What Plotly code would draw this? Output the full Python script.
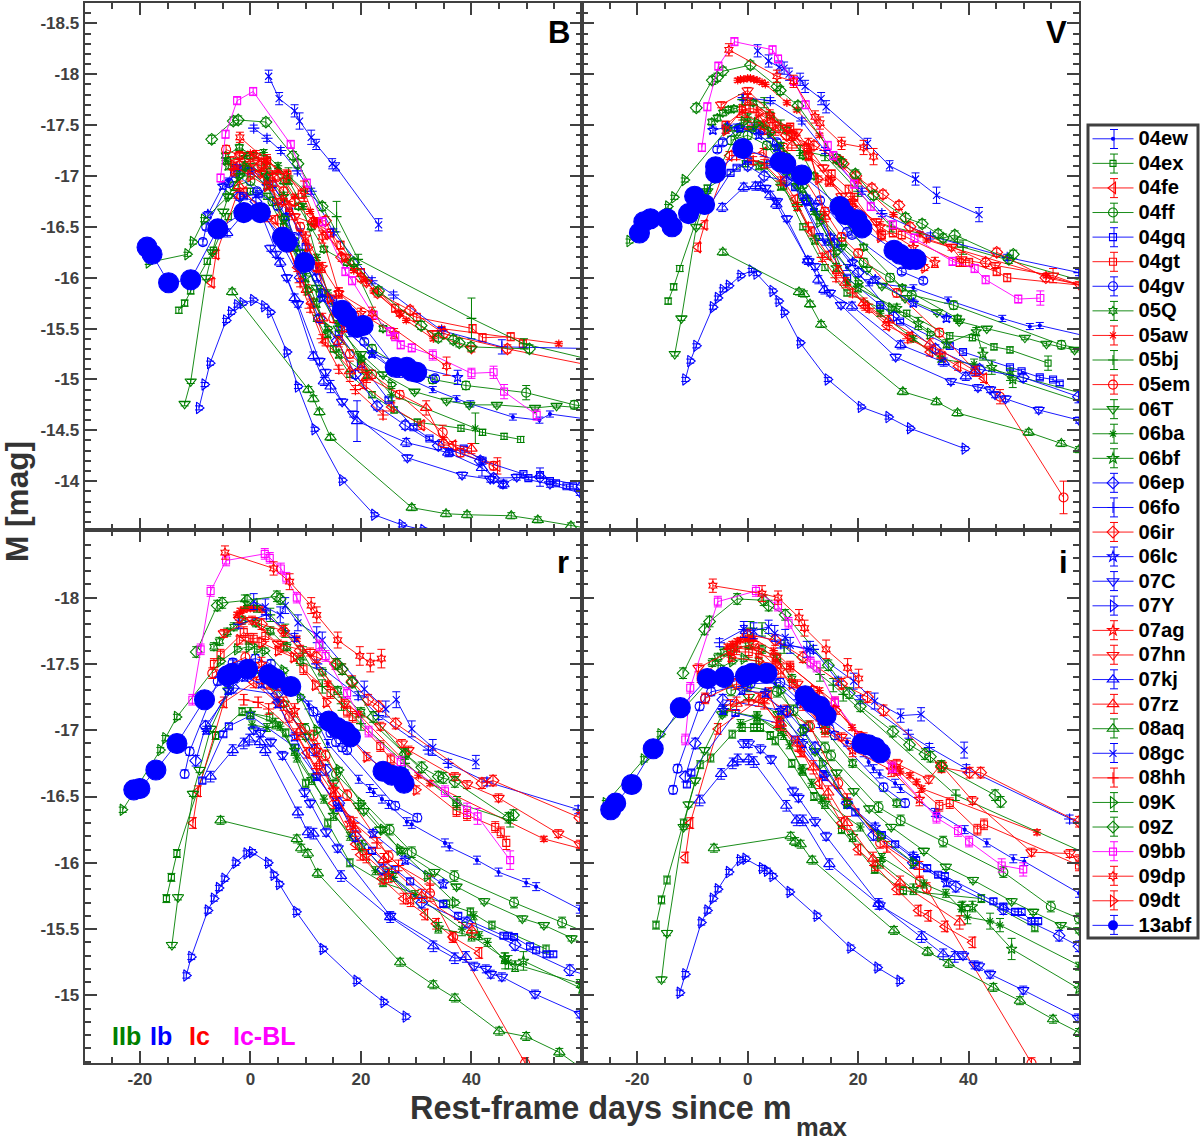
import plotly.graph_objects as go

SN_NAMES = ["04ew","04ex","04fe","04ff","04gq","04gt","04gv","05Q","05aw","05bj","05em","06T","06ba","06bf","06ep","06fo","06ir","06lc","07C","07Y","07ag","07hn","07kj","07rz","08aq","08gc","08hh","09K","09Z","09bb","09dp","09dt","13abf"]
SN_ERR = [.03,.03,.04,.04,.02,.04,.03,.03,.02,.05,.04,.02,.03,.04,.04,.03,.04,.03,.03,.02,.05,.03,.04,.05,.03,.06,.04,.02,.04,.04,.06,.03,.02]

# ---- B band: (day, magnitude[, error])
B_04ew = [(-4,-16.95),(-2,-17.05),(0,-17.05),(3,-16.98),(6,-16.75),(9,-16.45),(12,-16.1),(15,-15.75),(18,-15.45),(22,-15.25),(27,-15.05),(33,-14.9),(37.3,-14.81),(39.8,-14.76),(47.5,-14.63),(52.3,-14.6),(54.2,-14.66),(65,-14.58)]
B_04ex = [(-12.95,-15.68),(-11.9,-15.75),(-10.8,-15.87),(-7.8,-16.16),(-6.7,-16.27),(-4,-16.6),(0,-16.85),(3,-16.8),(6,-16.5),(9,-16.1),(12,-15.6),(15,-15.3),(18,-15.05),(22,-14.85),(26,-14.7),(30.2,-14.58),(38.1,-14.52),(42,-14.48),(45.9,-14.44),(48.9,-14.41)]
B_04fe = [(-7,-15.95),(-6.2,-16.23),(-2.4,-16.82),(-1.2,-16.84),(4.5,-16.57),(8.5,-16.1),(11,-15.75),(13.6,-15.37),(20.5,-14.95),(25.5,-14.73),(31,-14.55),(36.7,-14.35),(44.7,-14.15,.08)]
B_04ff = [(-3,-16.9),(0,-16.95),(4,-16.75),(8,-16.35),(12.7,-15.85),(17,-15.6),(22,-15.3),(28,-15.1),(33,-15.0),(39,-14.94),(49.9,-14.87,.07),(58.6,-14.75),(65,-14.7)]
B_04gq = [(-1.2,-16.8),(1.5,-16.82),(4,-16.92),(7,-16.65),(10,-16.3),(13,-15.85),(16,-15.45),(20,-15.15),(25,-14.8),(29.5,-14.53),(32.4,-14.42),(36,-14.28),(38.6,-14.32),(42,-14.2),(49.4,-14.07),(50.3,-14.03),(52.4,-14.06),(54.2,-14.0),(55.3,-13.98),(57.2,-13.95),(58.4,-13.95)]
B_04gt = [(-3.6,-17.15),(0,-17.2),(3,-17.15),(6.7,-17.01),(9.3,-16.82),(11.7,-16.55),(14.5,-16.44),(16.3,-16.32),(20,-16.05),(26.2,-15.7),(30.1,-15.61),(40.2,-15.5),(42,-15.41),(47.1,-15.42),(49.3,-15.35)]
B_04gv = [(-8.6,-16.35),(-8,-16.5),(-3.9,-16.93),(-2.8,-17.03),(1.2,-16.85),(5,-16.7),(8,-16.4),(12,-16),(14.8,-15.78),(20.6,-15.37),(26,-15.08),(29,-15.05),(33.4,-15.01)]
B_05Q = [(-4.5,-17.2),(-2,-17.28),(0.5,-17.2),(3,-17.1),(6,-16.95),(8.7,-16.7),(11,-16.5),(13.3,-16.28),(17.5,-16.15),(18.8,-16.1),(24,-15.5)]
B_05aw = [(0,-17.22),(3,-17.15),(5,-17.05),(8.1,-16.8),(10.8,-16.65),(12,-16.55),(18.7,-16.07),(20.8,-15.98),(22.3,-15.87),(27.1,-15.65),(28.2,-15.58),(33.1,-15.4),(34.6,-15.5),(55.8,-15.35)]
B_05bj = [(-1,-17.05),(2,-17.05),(6.9,-17.0,.08),(10,-16.85),(15.6,-16.6,.15),(19.5,-16.18),(40,-15.6,.2),(49.5,-15.35),(65,-15.15)]
B_05em = [(-4.4,-17.26),(-2,-17.2),(2,-17.1),(6,-16.85),(9,-16.5),(12,-16.1),(15,-15.6),(18,-15.25),(22,-15.05),(27,-14.85),(34.8,-14.48,.07),(38,-14.28),(44,-14.15)]
B_06T = [(-11.9,-14.76),(-10.8,-14.98),(-8,-16),(-6.9,-16.25),(-4.9,-16.65),(-4,-16.8),(-2,-17),(0,-17.1),(3,-17),(6.1,-16.58),(9,-16.25),(12,-15.9),(16,-15.5),(20,-15.25),(24,-15.05),(29.7,-14.88),(35.5,-14.79),(39.6,-14.75),(44.6,-14.75),(51.5,-14.72),(55.4,-14.74),(65,-14.7)]
B_06ba = [(-4.5,-17.15),(-1,-17.2),(2.4,-17.23),(5,-17.1),(7,-16.95),(9.5,-16.7),(12,-16.2),(14,-15.85),(16,-15.55),(20,-15.2),(25.5,-14.85,.06),(40.7,-14.52,.15)]
B_06bf = [(-4,-17.1),(-1,-17.1),(3,-17),(6,-16.8),(8,-16.3),(10,-16),(12,-15.75),(14,-15.45),(16,-15.25),(21,-15.05)]
B_06ep = [(-2,-16.8),(1,-16.75),(5,-16.4),(9,-16.0),(12.5,-15.6),(15.7,-15.38),(19,-15.05),(22.9,-14.74),(28,-14.55),(34,-14.35),(41.6,-14.2),(44,-14.03),(52.4,-14.04,.09),(60,-13.95),(65,-13.9)]
B_06fo = [(0.6,-17.47),(3,-17.37),(5.5,-17.25),(8.5,-17.05),(11,-16.85),(15,-16.45),(22,-15.97),(25.9,-15.83),(34.6,-15.48),(45.5,-15.32,.07),(65,-15.3)]
B_06ir = [(-2,-17.1),(2,-17.12),(5,-17),(8,-16.75),(11.4,-16.55),(13.6,-16.56),(16.5,-16.2),(20,-16),(23,-15.85),(28.9,-15.68),(35,-15.45),(46.5,-15.3),(65,-15.1)]
B_06lc = [(-7.7,-16.62),(-5,-16.9),(-2.5,-17.08),(0,-17.05),(3,-16.9),(6.5,-16.6),(9.5,-16.2),(13,-15.8),(17,-15.5),(22,-15.25),(28,-15.15),(37.5,-15.02,.07)]
B_07C = [(3.6,-16.29),(4.6,-16.23),(6.6,-16.0),(8.6,-15.74),(12.5,-15.18),(13.6,-15.07),(16.6,-14.78),(18.6,-14.66),(28.4,-14.23),(38.3,-14.06),(43.4,-14.02),(45.7,-13.97),(48.2,-14.04),(54.2,-13.97),(59.6,-13.89),(65,-13.8)]
B_07Y = [(-9.3,-14.72),(-8.3,-14.95),(-7.3,-15.16),(-4.4,-15.58),(-3.5,-15.66),(-2.4,-15.73),(-1.4,-15.75),(0.5,-15.78),(2.5,-15.72),(3.6,-15.66),(6.6,-15.27),(8.6,-14.93),(11.6,-14.51),(16.6,-14.01),(22.4,-13.67),(27.4,-13.57),(31.3,-13.52),(35.5,-13.42)]
B_07ag = [(-3,-17.05),(1,-17.2),(4,-17),(7,-16.7),(10,-16.4),(13,-16.1),(16,-15.85),(20,-15.65),(26,-15.45)]
B_07hn = [(-1.9,-17.2),(1.8,-17.02),(5,-16.75),(8,-16.6),(11.7,-16.53),(13.9,-16.42),(17.2,-16.2),(21,-15.95),(27,-15.65),(33,-15.45),(40,-15.3)]
B_07kj = [(-4.2,-16.44),(-1.2,-16.63),(1.8,-16.65),(5.4,-16.15),(8,-15.8),(11.4,-15.23),(13.3,-14.98),(14.5,-14.93,.06),(19.3,-14.59,.2),(28.2,-14.38),(35.8,-14.28),(41.9,-14.13,.08),(45.8,-13.97)]
B_07rz = [(-2,-16.9),(3,-16.6),(6,-16.4),(10.2,-15.88),(13,-15.6),(16,-15.37),(18,-15.08,.1),(20.2,-15.12),(21.1,-15.02),(31.8,-14.72,.07),(35,-14.38),(40,-14.32)]
B_08aq = [(-3.3,-15.86),(10.5,-14.9),(11.4,-14.81),(12.5,-14.68),(14.5,-14.43),(29.2,-13.74),(35.4,-13.68),(39.2,-13.67),(47.2,-13.66),(52,-13.62),(58,-13.56),(65,-13.5)]
B_08gc = [(3.3,-17.98),(5.2,-17.76),(8,-17.64,.06),(8.9,-17.54,.08),(11,-17.38,.07),(11.9,-17.31,.05),(14.8,-17.12,.05),(15.5,-17.09,.04),(23.2,-16.52,.06)]
B_08hh = [(0,-17.1),(4,-16.9),(7,-16.3),(9,-15.95),(10.8,-15.7),(13,-15.4),(16,-15.1),(19,-14.9),(24,-14.65)]
B_09K = [(-18.4,-16.15),(-11.4,-16.23),(-10.4,-16.35),(-8.4,-16.57),(-4,-16.8),(-2,-17),(-0.9,-17.08),(3,-16.9),(6.1,-16.58),(10.4,-15.88),(14,-15.5),(20,-15.2),(25.5,-14.95)]
B_09Z = [(-7,-17.36),(-3.1,-17.54),(-2.2,-17.55),(2.8,-17.53),(7.7,-17.2),(8.6,-17.12),(13,-16.7),(18.7,-16.15),(23.2,-15.87),(30.9,-15.53),(34,-15.41),(36.7,-15.39),(37.8,-15.36),(39.9,-15.32),(50.5,-15.3)]
B_09bb = [(-5.4,-16.98),(-4.5,-17.41),(-2.4,-17.74),(0.5,-17.83),(7.3,-17.31),(10.2,-16.93),(13,-16.55),(17.2,-16.06),(18.4,-15.97),(22.3,-15.63),(25.3,-15.47),(26.2,-15.42),(27.2,-15.34),(29.2,-15.31),(33,-15.24,.05),(40,-15.06,.05),(44,-15.07,.06),(45.9,-14.88,.07),(51.8,-14.65,.05)]
B_09dp = [(-1.9,-17.38,.05),(3,-17.15),(6.5,-17),(9.7,-16.85,.1),(13,-16.4),(16,-15.85,.05),(22,-15.65),(35.5,-15.13,.09)]
B_09dt = [(-3,-17.1),(0,-17),(3,-16.9),(6,-16.75),(10.4,-16.3),(12.3,-16.1),(14.4,-15.8),(17,-15.5)]
B_13abf = [(-18.7,-16.3),(-17.8,-16.23),(-14.8,-15.95),(-10.8,-15.98),(-5.9,-16.48),(-1.2,-16.64),(1.8,-16.64),(5.8,-16.4),(6.6,-16.35),(9.8,-16.15),(16.6,-15.68),(17.5,-15.62),(19.3,-15.51),(20.4,-15.53),(26.2,-15.12),(28.3,-15.12),(29.2,-15.08),(30.1,-15.07)]

# ---- V band
V_04ew = [(-4,-17.45),(-2,-17.48),(1,-17.48),(4,-17.4),(7,-17.15),(10,-16.75),(14,-16.35),(18,-16.1),(22,-15.95),(30,-15.9),(36.3,-15.78),(46.1,-15.6),(51.1,-15.52),(52.9,-15.53),(65,-15.38)]
V_04ex = [(-14.4,-15.77),(-13.4,-15.91),(-12.3,-16.09),(-7.3,-16.88),(-0.4,-17.12),(3,-17.1),(6.5,-16.9),(10,-16.5),(14,-16.1),(18,-15.85),(24,-15.7),(28.8,-15.65),(36.6,-15.43),(40.7,-15.41),(44.6,-15.32),(47.5,-15.29),(54.4,-15.16,.07)]
V_04fe = [(-9,-16.3),(-7.8,-16.52),(-3.3,-17.2),(2.9,-17.23),(6.6,-16.95),(8.6,-16.77),(11.6,-16.45),(14.6,-16.22),(21.3,-15.72),(25.2,-15.53),(29.4,-15.42),(33,-15.27),(35.3,-15.22),(38.1,-15.13),(42.8,-15.01)]
V_04ff = [(-3,-17.35),(0,-17.4),(3.5,-17.3),(7,-17.05),(10,-16.8),(13.1,-16.61),(17,-16.35),(21,-16.15),(25.8,-16),(29.7,-15.83),(37.3,-15.73),(56.8,-15.34),(65,-15.25)]
V_04gq = [(-7,-16.7),(-3.1,-17.03),(-2,-17.08),(0,-17.15),(4,-17.12),(8.6,-16.89),(13,-16.4),(18,-16),(24,-15.73),(27.6,-15.57),(36.6,-15.33),(39,-15.27),(47.5,-15.12),(49.6,-15.08),(52.9,-15.02),(55.3,-15),(56.5,-14.96)]
V_04gt = [(-4,-17.5),(-0.4,-17.66),(1.1,-17.66),(4.2,-17.56),(7.7,-17.48),(11,-17.2),(15.2,-17.02),(18.3,-16.87),(19.3,-16.79),(24.3,-16.42),(26.3,-16.44),(27.9,-16.42),(38.4,-16.15),(40.1,-16.15),(45.1,-16.06),(47,-16),(65,-15.9)]
V_04gv = [(-5.5,-17.26),(-4.5,-17.33),(-1.6,-17.47),(2.3,-17.45),(5.3,-17.33),(8,-17),(10.7,-16.75),(13.1,-16.76),(18,-16.45),(18.9,-16.42),(27.9,-16.06),(31.8,-15.97)]
V_05Q = [(-6.5,-17.53),(-5.5,-17.57),(-4.5,-17.62),(-3.5,-17.65),(-2.5,-17.66),(1,-17.72),(4,-17.6),(7,-17.45),(10,-17.2),(12,-17),(17,-16.6),(21,-16.3),(28,-15.9),(38,-15.6)]
V_05aw = [(-1.8,-17.94),(-1.3,-17.95),(-0.7,-17.95),(0,-17.96),(0.5,-17.96),(1.1,-17.95),(1.7,-17.94),(2.6,-17.92),(3.2,-17.9),(7.1,-17.72),(8.9,-17.65),(13,-17.4),(16,-17.15),(20,-16.95),(26.4,-16.62),(31.2,-16.43),(32.4,-16.37),(54.1,-16.02),(65,-15.85)]
V_05bj = [(-1,-17.75),(3,-17.72),(6,-17.5),(9.5,-17.25),(14,-17.2,.05),(20,-16.85),(26,-16.5),(38,-16.35),(39,-16.3,.07),(65,-15.9)]
V_05em = [(0,-17.5),(3,-17.45),(6.5,-17.28),(10,-17),(14,-16.65),(17,-16.4),(20,-16.24),(27,-15.85),(34.7,-15.46),(45.7,-14.83,.07),(57.2,-13.84,.16)]
V_06T = [(-13.2,-15.25),(-12,-15.6),(-9.3,-16.5),(-7.3,-16.85),(-1.9,-17.42),(0.8,-17.46),(5,-17.28),(9,-16.9),(13,-16.6),(17,-16.3),(21.6,-16.08),(24.3,-15.92),(28.5,-15.8),(34.3,-15.66),(38.3,-15.57),(43.3,-15.5),(50.2,-15.41),(54.1,-15.35),(59.2,-15.29),(65,-15.25)]
V_06ba = [(0,-17.58),(3,-17.5),(6,-17.3),(9,-17.0),(12,-16.65),(15,-16.35),(18,-15.95),(24,-15.65),(30,-15.4),(35,-15.2),(41,-15.15,.05),(47.5,-15.05,.06),(65,-14.8)]
V_06bf = [(-1,-17.3),(2,-17.1),(6,-16.9),(9,-16.7),(12.2,-16.37),(16,-16.1),(20,-15.9),(27,-15.7),(30.9,-15.55,.06),(36,-15.35),(41.4,-15.47),(42.6,-15.25,.06),(44.2,-15.12,.07),(48,-15,.08),(65,-14.7)]
V_06ep = [(0,-17.1),(3,-17),(7,-16.95),(10.7,-16.77),(15.7,-16.34),(20,-16.05),(26.4,-15.62),(34,-15.3),(42,-15.1),(49.9,-15.02),(59.9,-14.83,.06)]
V_06fo = [(-0.8,-17.77),(4.1,-17.74),(9.8,-17.54),(14,-17.25),(20.7,-16.85),(24.3,-16.63),(33.1,-16.41),(47,-16.2),(60,-16.05),(65,-16)]
V_06ir = [(3,-17.5),(7,-17.4),(12,-17.3),(16.7,-17.15),(17.3,-17.12),(19.6,-17),(22.5,-16.88),(24.5,-16.82),(27.4,-16.71),(29.4,-16.5),(43.1,-16.15),(45.1,-16.25),(54,-16),(65,-15.88)]
V_06lc = [(-6.3,-17.45),(-3.7,-17.48),(-1.4,-17.47),(2,-17.4),(5.3,-17.28),(9,-17),(12,-16.7),(15,-16.4),(19,-16.15),(23.1,-15.98),(30,-15.75),(36,-15.6)]
V_07C = [(3.2,-16.88),(5.3,-16.75),(7.1,-16.58),(11,-16.16),(12.2,-16.11),(14.9,-15.85),(16.9,-15.73),(26.8,-15.22),(36.8,-14.98),(41.7,-14.92),(43.9,-14.9),(44.8,-14.85),(46.7,-14.81),(52.7,-14.7),(60,-14.6),(65,-14.55)]
V_07Y = [(-11.3,-15),(-10.4,-15.18),(-9.3,-15.33),(-6.3,-15.71),(-5.4,-15.8),(-4.5,-15.88),(-3.4,-15.92),(-1.3,-16.02),(0.7,-16.07),(1.6,-16.04),(4.5,-15.87),(5.6,-15.77),(6.6,-15.66),(9.5,-15.36),(14.5,-15),(20.5,-14.73),(25.5,-14.63),(29.4,-14.52),(39.3,-14.32)]
V_07ag = [(0,-17.75),(4,-17.6),(8,-17.4),(11,-17.2),(15,-16.95),(19,-16.75),(24,-16.5),(30,-16.3),(33.9,-16.15)]
V_07hn = [(-4.8,-17.7),(0,-17.84),(7.1,-17.47),(8.9,-17.43),(13.7,-17.08),(17,-16.8),(23.3,-16.55),(36.9,-16.3),(38.7,-16.18,.07),(44.8,-16.12),(55.3,-16.02,.07),(60,-15.93)]
V_07kj = [(-4.6,-16.69),(-0.7,-16.89),(1.4,-16.9),(2.3,-16.9),(4.1,-16.81),(5.2,-16.72),(10.9,-16.17),(12.8,-15.98),(13.9,-15.88),(18.9,-15.72),(27.7,-15.34),(35.5,-15.17),(39.5,-15.03),(41.1,-15.08)]
V_07rz = [(-1,-17.6),(2,-17.55),(5,-17.45),(8,-17.3),(11,-17.32),(14,-16.6),(16.4,-16.07),(17.7,-15.95),(21,-15.75),(25.5,-15.58),(33,-15.35),(41.3,-15.08)]
V_08aq = [(-4.5,-16.25),(9.3,-15.86),(10.2,-15.84),(11.3,-15.74),(13.3,-15.54),(28.1,-14.88),(34.2,-14.78),(38,-14.67),(50.9,-14.48),(56.8,-14.37),(60,-14.31),(65,-14.2)]
V_08gc = [(1.8,-18.23),(3.8,-18.13),(5.7,-18.07,.06),(6.6,-18.06),(7.5,-18),(9.5,-17.95),(10.4,-17.88),(13.3,-17.76),(14.2,-17.68),(21.7,-17.32,.05),(25.7,-17.1,.05),(30.4,-16.97,.06),(34.2,-16.81,.08),(41.9,-16.62,.07)]
V_08hh = [(-2,-17.2),(1,-17.15),(3,-17.12),(6,-16.95),(9,-16.7),(11,-16.5),(13.5,-16.2),(16,-16),(19,-15.85),(22,-15.7),(29,-15.4),(34.8,-15.25)]
V_09K = [(-21.4,-16.36),(-14.4,-16.7),(-13.3,-16.79),(-11.4,-16.96),(-3.7,-17.46),(-0.7,-17.53),(1.7,-17.52),(4.1,-17.43),(7,-17.2),(10,-16.9),(13,-16.55),(16,-16.25),(20,-15.95),(26,-15.7),(33,-15.45)]
V_09Z = [(-9.3,-17.67),(-6.4,-17.94),(-5.5,-17.97),(-4.5,-18.03),(0.5,-18.09),(5.3,-17.88),(5.9,-17.84),(9.1,-17.69),(16.1,-17.17),(17,-17.13),(19.5,-17.02),(22.8,-16.81),(28.6,-16.59),(31.6,-16.53),(34.5,-16.43),(35.4,-16.39),(37.5,-16.42),(47.3,-16.18),(48.1,-16.23)]
V_09bb = [(-8.3,-17.28),(-7.3,-17.68),(-5.3,-18.08),(-2.4,-18.32),(4.5,-18.24),(5.5,-18.15),(8.4,-17.93),(10.5,-17.7),(14.5,-17.3),(15.5,-17.2),(19.3,-16.92),(22.3,-16.7),(26.3,-16.52),(30.2,-16.39),(37.1,-16.16),(41.1,-16.09),(43.1,-15.98),(49,-15.79),(53,-15.8,.07)]
V_09dp = [(-3.4,-18.24),(5.3,-17.98),(8.3,-17.93),(12.2,-17.58),(13.1,-17.52),(17,-17.32,.06),(21,-17.28,.07),(22.8,-17.19,.08)]
V_09dt = [(-4,-17.45),(-1,-17.65),(2,-17.62),(5,-17.5),(8.5,-17.4),(10.7,-17.28),(12.8,-16.97),(14.6,-16.95),(19,-16.7),(24,-16.4),(32,-16.1)]
V_13abf = [(-19.6,-16.44),(-18.8,-16.55),(-17.6,-16.58),(-14.6,-16.58),(-13.7,-16.5),(-10.7,-16.63),(-9.6,-16.8),(-7.8,-16.72),(-5.8,-17.09),(-5.8,-17.03),(-0.9,-17.27),(5.9,-17.14),(6.9,-17.12),(9.8,-17.01),(16.7,-16.7),(17.7,-16.62),(19.8,-16.57),(20.7,-16.49),(26.5,-16.27),(27.6,-16.23),(29.4,-16.18),(30.5,-16.18)]

# ---- r band
r_04ew = [(-3,-17.5),(0,-17.5),(4,-17.43),(7,-17.3),(10.5,-17.19),(14,-16.9),(19.6,-16.63),(21.6,-16.56),(22.3,-16.53),(23.8,-16.48),(25,-16.44),(28.3,-16.31),(29.2,-16.29),(35.2,-16.15),(36,-16.12),(41,-16.02),(44.9,-15.93),(49.9,-15.85),(51.7,-15.82),(59.6,-15.65),(65,-15.55)]
r_04ex = [(-15.2,-15.73),(-14.3,-15.89),(-13.3,-16.07),(-6.3,-16.96),(-1.5,-17.14),(3.5,-17.1),(6.4,-16.98),(10,-16.6),(14,-16.3),(18,-16),(24,-15.85),(35.5,-15.69),(39.8,-15.63),(43.7,-15.53),(53.5,-15.35)]
r_04fe = [(-10.4,-16.3),(-9.5,-16.54),(-4.8,-17.21),(0.6,-17.36),(4.8,-17.21),(10.2,-16.83),(15,-16.45),(19,-16.14),(19.9,-16.06),(23.8,-15.88),(27.7,-15.73),(31.6,-15.61),(33.6,-15.54),(36.6,-15.44),(41.4,-15.32)]
r_04ff = [(-3,-17.4),(0,-17.47),(4,-17.35),(9.9,-17.01),(15.5,-16.67),(25.2,-16.25),(29.2,-16.08),(36.9,-15.9),(47.7,-15.7),(56.4,-15.55),(65,-15.4)]
r_04gq = [(-8.7,-16.62),(-4.9,-16.97),(-3.9,-17.03),(0,-17.11),(8.1,-16.87),(12,-16.65),(22,-16.09),(26.2,-15.95),(28.9,-15.86),(34.9,-15.69),(37.6,-15.6),(45.8,-15.45),(46.7,-15.45),(47.7,-15.44),(50.6,-15.37),(51.7,-15.34),(53.6,-15.31),(54.8,-15.31)]
r_04gt = [(-6.6,-17.5),(-5.4,-17.57),(-1.2,-17.74),(-0.3,-17.69),(0.6,-17.69),(2.7,-17.71),(6,-17.63),(9.6,-17.46),(14.5,-17.28),(17.5,-17.14),(18.5,-17.1),(23.5,-16.88),(25.4,-16.78),(37.3,-16.39),(39.2,-16.36),(44.3,-16.27),(45.3,-16.23),(46.3,-16.15,.05)]
r_04gv = [(-11.9,-16.67),(-11,-16.84),(-5.9,-17.37),(-3.2,-17.51),(0.9,-17.54),(3.7,-17.5),(11.4,-17.14),(12.7,-17.09),(14.5,-16.98),(15.5,-16.91),(16.6,-16.87),(17.5,-16.85),(26.2,-16.43),(30.2,-16.34)]
r_05Q = [(-6.6,-17.63),(-5.6,-17.67),(-4.2,-17.74),(-3,-17.78),(-1.5,-17.83),(1,-17.81),(3.6,-17.75),(6.6,-17.63),(9,-17.52),(13,-17.44),(15.8,-17.3),(20,-17.14),(28,-16.82),(37.3,-16.45)]
r_05aw = [(-2.4,-17.87),(-1.8,-17.9),(-1.2,-17.91),(-0.6,-17.92),(0,-17.92),(0.6,-17.92),(1.2,-17.92),(2.1,-17.91),(6,-17.75),(8.4,-17.69),(14,-17.35),(19.6,-17.12),(30.4,-16.66),(32.5,-16.6),(53.1,-16.18),(65,-16.05)]
r_05bj = [(-1,-17.97),(1.2,-17.94),(3.6,-17.87),(6.3,-17.75),(9.5,-17.58),(13,-17.33),(16.5,-17.2),(20,-17.05),(28,-16.75),(37.4,-16.45,.05),(47,-16.32)]
r_05em = [(-6.9,-17.43),(-0.9,-17.55),(3,-17.35),(7,-17.1),(11.4,-16.96),(13.6,-16.81),(17.5,-16.51),(25,-16.05),(32.5,-15.77,.06),(36.7,-15.44),(49.7,-14.49),(52.4,-14.34)]
r_06T = [(-14.2,-15.38),(-13.1,-15.74),(-10.4,-16.52),(-9.2,-16.7),(-7.2,-17.01),(-4,-17.3),(-1,-17.45),(2,-17.43),(6,-17.2),(10,-16.95),(15,-16.6),(19.6,-16.43),(20.5,-16.39),(23.5,-16.25),(27.4,-16.09),(33.3,-15.93),(37.3,-15.82),(42.3,-15.71),(49.2,-15.58),(53.1,-15.53),(58.1,-15.43),(65,-15.3)]
r_06ba = [(0.3,-17.04),(3,-17.02),(5.4,-17.03),(8.4,-16.79),(13.3,-16.48),(18,-16.2),(22.6,-15.94),(25.9,-15.89),(29.8,-15.76),(38.3,-15.5,.05),(40.4,-15.6),(41.4,-15.45),(42.9,-15.4),(46.1,-15.26,.06),(46.7,-15.25,.05),(59.6,-15.09),(65,-15)]
r_06bf = [(0,-17.13),(4.5,-17.05),(8,-16.85),(11.1,-16.63),(15,-16.36),(20.2,-16.13),(25,-15.92),(34,-15.51),(40,-15.45),(46,-15.28),(47.9,-15.22,.04),(49.4,-15.26,.07),(60,-15.05),(65,-15)]
r_06ep = [(-9.9,-16.77),(-8.1,-17.03),(-3.1,-17.32),(4.8,-17.27),(11.6,-16.85),(13.6,-16.7),(16,-16.45),(19,-16.2),(24,-15.95),(31,-15.7),(39.2,-15.55),(47.9,-15.38),(57.8,-15.19),(65,-15.1)]
r_06fo = [(-2.1,-17.8),(2.9,-17.87),(8,-17.7),(12,-17.5),(19.5,-17.26),(23.2,-17.11),(32.2,-16.85),(35.8,-16.75),(42.8,-16.61),(59.3,-16.4),(65,-16.33)]
r_06ir = [(-2,-17.85),(2,-17.8),(6,-17.75),(9,-17.6),(12,-17.55),(15.4,-17.5),(16.6,-17.46),(18.4,-17.37),(21.3,-17.23),(23.2,-17.18),(26.3,-17.05),(41.9,-16.6),(43.9,-16.62),(59.6,-16.34),(65,-16.25)]
r_06lc = [(-8,-17),(-4,-17.3),(-1,-17.4),(2,-17.35),(5,-17.2),(8,-16.95),(12,-16.65),(16,-16.42),(22.2,-16.22),(28,-16.02),(34.9,-15.84)]
r_07C = [(0.6,-17),(1.8,-16.98),(3.7,-16.91),(5.8,-16.81),(9.8,-16.53),(10.8,-16.45),(13.7,-16.23),(15.8,-16.11),(25.3,-15.6),(40.5,-15.22),(42.6,-15.2),(43.5,-15.16),(45.5,-15.14),(51.5,-15.01),(59.6,-14.86),(65,-14.75)]
r_07Y = [(-11.6,-15.15),(-10.7,-15.29),(-7.7,-15.64),(-6.6,-15.73),(-5.7,-15.81),(-4.7,-15.88),(-2.7,-16),(-0.7,-16.07),(0.3,-16.08),(3.2,-16),(4.2,-15.91),(5.2,-15.84),(8.3,-15.63),(13.1,-15.35),(19.2,-15.11),(24.1,-14.95),(28.1,-14.84)]
r_07ag = [(2,-17.5),(5,-17.35),(8,-17.15),(12,-16.85),(15,-16.55),(18,-16.3),(21,-16.05),(25,-15.9),(29,-15.72)]
r_07hn = [(-4.8,-17.73),(0.3,-17.83),(5,-17.65),(10.8,-17.59),(17,-17.2),(23.5,-17.03),(27.4,-16.9),(28.6,-16.85),(37,-16.65),(39.2,-16.59),(44.9,-16.49),(55.7,-16.22),(59.6,-16.14),(65,-16.02)]
r_07kj = [(-7.2,-16.65),(-3.2,-16.85),(-1.2,-16.9),(-0.2,-16.93),(1.7,-16.91),(2.7,-16.85),(8.6,-16.38),(10.4,-16.23),(11.4,-16.22),(16.4,-15.9),(25.3,-15.59),(33.1,-15.37),(37,-15.28),(39,-15.29)]
r_07rz = [(2,-17.4),(6,-17.2),(9,-17),(12.5,-16.75),(15.4,-16.52),(19,-16.25),(24.1,-16.02),(31,-15.75),(40.1,-15.49)]
r_08aq = [(-5.4,-16.32),(8.4,-16.18),(9.2,-16.11),(10.4,-16.07),(12.2,-15.92),(27.1,-15.25),(33.1,-15.08),(37,-14.98),(45,-14.73),(49.9,-14.69),(55.9,-14.57),(59.6,-14.46)]
r_08gc = [(0.6,-17.97),(2.7,-17.93),(5.4,-17.87),(6.3,-17.94),(8.6,-17.81),(12,-17.72),(13,-17.68),(20.6,-17.31),(24.5,-17.16),(26.4,-17.23),(29.2,-17.01),(33,-16.87,.06),(40.8,-16.76,.05)]
r_08hh = [(-1.2,-17.23),(1.4,-17.21),(3.3,-17.16),(8.4,-16.97),(12,-16.71),(18.7,-16.3),(22.9,-16.15),(26.8,-15.98),(32.5,-15.84,.06)]
r_09K = [(-23.1,-16.4),(-16.3,-16.85),(-15.4,-16.94),(-13.3,-17.1),(-5.4,-17.52),(-2.4,-17.61),(-0.3,-17.63),(1.2,-17.61),(2.6,-17.6),(6,-17.45),(9,-17.25),(12,-17),(16,-16.7),(20,-16.45),(24,-16.25),(27,-16.1),(32,-15.9),(37,-15.7)]
r_09Z = [(-9.8,-17.59),(-6,-17.94),(-5.1,-17.96),(-0.6,-17.98),(4.8,-18.01),(5.4,-17.99),(15.7,-17.5),(16.6,-17.46),(18.4,-17.36),(22.2,-17.1),(28,-16.82),(31,-16.72),(34,-16.65),(34.9,-16.64),(37,-16.61),(46.7,-16.34),(47.6,-16.36)]
r_09bb = [(-10.5,-17.23),(-9,-17.61),(-7.2,-18.05),(-4.4,-18.28),(2.6,-18.33),(3.5,-18.3),(5.5,-18.22),(6.5,-18.15),(8.4,-18),(12.5,-17.64),(13.6,-17.56),(17.5,-17.28),(21.4,-16.99),(27.2,-16.76),(35.2,-16.54),(39.2,-16.4,.05),(41.1,-16.35,.06),(47,-16.02,.07)]
r_09dp = [(-4.6,-18.34,.05),(4.2,-18.22,.05),(7.1,-18.12),(11,-17.94),(12,-17.87),(15.8,-17.68,.06),(19.8,-17.56,.07),(21.7,-17.51,.07),(23.7,-17.54,.07)]
r_09dt = [(-2,-17.68),(2,-17.66),(5,-17.6),(7.8,-17.55),(11.7,-17.34),(13.7,-17.21),(17,-17),(21,-16.8),(30,-16.55)]
r_13abf = [(-21.1,-16.55),(-20,-16.56),(-17.1,-16.7),(-13.3,-16.9),(-8.3,-17.23),(-4.2,-17.41),(-3.3,-17.43),(-0.5,-17.46),(3.3,-17.42),(4.5,-17.39),(7.3,-17.33),(14.2,-17.07),(15.7,-17.02),(17.2,-16.99),(18.1,-16.95),(24,-16.69),(25.6,-16.66),(27.1,-16.65),(27.8,-16.6)]

# ---- i band
i_04ew = [(-4,-17.35),(0,-17.4),(5,-17.35),(9,-17.2),(13,-17.05),(18,-16.91),(21,-16.83),(21.9,-16.76),(22.8,-16.71),(23.9,-16.67),(26.7,-16.6),(27.7,-16.56),(33.9,-16.38),(34.5,-16.37),(39.3,-16.25),(43.3,-16.15),(48.1,-16.03),(50.1,-16.01),(60,-15.77),(65,-15.65)]
i_04ex = [(-16.6,-15.53),(-15.6,-15.72),(-14.6,-15.87),(-11.6,-16.3),(-8.6,-16.74),(-6.7,-16.79),(-2.8,-16.97),(-1,-17.02),(1.1,-17.02),(2.3,-17.02),(4.1,-16.96),(5,-16.92),(8,-16.75),(12,-16.5),(17,-16.25),(23,-15.95),(28.2,-15.79),(42.3,-15.73),(52,-15.51)]
i_04fe = [(-11.3,-16.04),(-10.4,-16.3),(-5.4,-17.01),(3.8,-17.28),(6,-17.05),(9.8,-16.84),(13,-16.6),(17,-16.3),(20,-16.1),(23.1,-15.98),(27,-15.8),(30.9,-15.64),(32.7,-15.6),(35.7,-15.52),(40.7,-15.4)]
i_04ff = [(-3,-17.3),(0,-17.33),(5.3,-17.29),(8.3,-17.15),(11,-17.03),(14,-16.87),(15.1,-16.81),(23.7,-16.42),(27.7,-16.32),(35.4,-16.16),(46.3,-15.93),(54.9,-15.67),(60,-15.58),(65,-15.48)]
i_04gq = [(-11,-16.59),(-10.2,-16.68),(-2.2,-17.13),(5.9,-17.05),(8.6,-16.93),(13.7,-16.67),(19.5,-16.38),(24.3,-16.21),(26.7,-16.14),(30.5,-16.02),(32.5,-15.96),(34.5,-15.91),(35.7,-15.9),(44.5,-15.71),(46.3,-15.67),(48.4,-15.63),(49.6,-15.63),(51.4,-15.56),(52.6,-15.56)]
i_04gt = [(-8.5,-17.4),(-3.1,-17.59),(0.2,-17.59),(5.3,-17.54),(7.7,-17.48),(15.8,-17.21),(20,-16.95),(27,-16.7),(34.7,-16.43),(36.6,-16.45),(41.6,-16.25),(42.8,-16.29),(60,-15.98),(65,-15.9)]
i_04gv = [(-13.5,-16.55),(-12.7,-16.71),(-8.7,-17.18),(-7.7,-17.24),(-6.6,-17.29),(0.5,-17.35),(5.9,-17.36),(14.8,-17.01),(15.8,-16.96),(24.6,-16.57),(28.5,-16.45)]
i_05Q = [(-6.4,-17.51),(-5.4,-17.55),(-4.3,-17.59),(-2.5,-17.62),(0.2,-17.64),(2.6,-17.61),(5.3,-17.55),(8,-17.39),(10,-17.25),(14,-17),(19,-16.75),(27,-16.45)]
i_05aw = [(-3.7,-17.63),(-2.8,-17.65),(-1.9,-17.67),(-1.3,-17.68),(-0.4,-17.69),(0.4,-17.69),(1.1,-17.69),(4.7,-17.6),(7.7,-17.48),(13,-17.3),(18.9,-17.02),(27.6,-16.69),(29.4,-16.66),(30.6,-16.61),(31.5,-16.56),(52.4,-16.23)]
i_05bj = [(0.5,-17.77),(2.6,-17.76),(6.6,-17.63),(13.1,-17.42,.05),(15.5,-17.34),(17.3,-17.27),(37.7,-16.51,.04),(65,-16)]
i_05em = [(-7.7,-17.24),(-2,-17.35),(3,-17.25),(7,-17.15),(11.3,-17.03),(16.4,-16.6),(24,-16.15),(31.2,-15.86),(32.4,-15.81),(51.4,-14.49)]
i_06T = [(-15.6,-15.12),(-14.6,-15.47),(-11.6,-16.27),(-10.7,-16.44),(-9.5,-16.62),(-7.8,-16.85),(-4.6,-17.12),(0.2,-17.25),(5.6,-17.12),(12.2,-16.84),(16.1,-16.68),(19.2,-16.54),(22,-16.41),(26,-16.27),(31.9,-16.09),(35.9,-15.97),(40.8,-15.87),(47.8,-15.71),(51.7,-15.63),(56.7,-15.53),(60,-15.49),(65,-15.4)]
i_06ba = [(-1.3,-17.05),(1.7,-17.1),(6.5,-16.96),(7.6,-16.89),(9.8,-16.7),(11.6,-16.6),(13.4,-16.48),(20.4,-16.27),(24.3,-16.04),(31.9,-15.84),(35.9,-15.77),(38.7,-15.65,.05),(39.8,-15.59,.05),(43.9,-15.56,.06),(45.7,-15.53,.05),(60,-15.22),(65,-15.12)]
i_06bf = [(-4.3,-17.15),(1.7,-17.1),(6,-17),(10,-16.7),(14,-16.45),(19,-16.2),(24,-16),(30,-15.8),(38.9,-15.67),(40.7,-15.67),(47.8,-15.35,.08),(60,-15.05),(65,-14.95)]
i_06ep = [(-11.3,-16.65),(-9.5,-16.9),(-4.5,-17.23),(7.2,-17.14),(10.1,-17),(12.2,-16.87),(18,-16.45),(22.8,-16.21),(30,-16),(37.7,-15.82),(46.3,-15.65),(56.4,-15.45),(60,-15.37),(65,-15.25)]
i_06fo = [(-5.1,-17.66),(-0.7,-17.76),(6,-17.65),(11.9,-17.61),(16.4,-17.37),(20.4,-17.23),(29.1,-16.97),(32.9,-16.87),(39.6,-16.71),(58.3,-16.33),(65,-16.2)]
i_06ir = [(0,-17.72),(5,-17.68),(10,-17.55),(17,-17.35),(21.7,-17.25),(24.6,-17.15),(35.1,-16.72),(40.2,-16.68),(42.2,-16.68),(60,-16.31),(65,-16.2)]
i_06lc = [(-4.5,-17.15),(-1,-17.3),(3.2,-17.28),(6,-17.15),(10,-16.9),(14,-16.65),(18,-16.45),(23.1,-16.27),(30,-16.05),(36,-15.85)]
i_07C = [(-0.8,-16.9),(0.2,-16.9),(2.3,-16.86),(4.2,-16.78),(8.2,-16.54),(9.2,-16.49),(12.2,-16.31),(14.2,-16.2),(23.9,-15.68),(39,-15.3),(41.1,-15.23),(41.9,-15.22),(43.9,-15.16),(49.9,-15.04),(59.8,-14.83),(65,-14.72)]
i_07Y = [(-12.3,-15.02),(-11.3,-15.16),(-8.4,-15.55),(-7.3,-15.64),(-6.3,-15.73),(-5.4,-15.8),(-3.4,-15.93),(-1.4,-16.02),(-0.4,-16.03),(2.6,-15.96),(3.5,-15.94),(4.5,-15.9),(7.6,-15.78),(12.5,-15.6),(18.6,-15.36),(23.5,-15.21),(27.5,-15.11)]
i_07ag = [(-2,-17.62),(2,-17.6),(6,-17.45),(10,-17.2),(14,-17),(19,-16.85),(26,-16.7),(31.1,-16.48)]
i_07hn = [(-8.9,-17.47),(-3,-17.6),(1,-17.65),(5,-17.55),(9,-17.35),(13,-17.1),(17,-16.95),(22,-16.85),(27,-16.75),(32.8,-16.63),(35,-16.74),(40.7,-16.47),(51.4,-16.08),(58.3,-16.07),(60,-16.03),(65,-15.95)]
i_07kj = [(-8.7,-16.47),(-4.8,-16.67),(-2.7,-16.75),(-1.8,-16.78),(0.2,-16.78),(1.1,-16.76),(7,-16.43),(8.9,-16.32),(10,-16.32),(14.8,-15.99),(23.7,-15.69),(31.5,-15.44),(35.4,-15.31),(37.5,-15.29)]
i_07rz = [(-2,-17.2),(2,-17.23),(6,-17.05),(9,-16.9),(11.9,-16.72),(14.6,-16.53),(18,-16.3),(22.7,-16.03),(27.6,-15.85),(38.4,-15.55)]
i_08aq = [(-6.1,-16.11),(7.8,-16.2),(8.6,-16.16),(9.6,-16.14),(11.7,-16.02),(26.5,-15.49),(32.6,-15.33),(36.4,-15.24),(44.5,-15.06),(49.3,-14.96),(55.3,-14.82),(60,-14.72),(65,-14.6)]
i_08gc = [(-0.7,-17.76),(1.1,-17.75),(3.8,-17.78,.05),(4.9,-17.73),(6.8,-17.7),(7.7,-17.64),(10.7,-17.61),(11.3,-17.61),(19.2,-17.37),(23,-17.22),(27.7,-17.11,.05),(31.4,-17.12,.05),(39.2,-16.85,.06)]
i_08hh = [(-3.1,-17.19),(0.2,-17.23),(3,-17.2),(5.3,-17.06),(9.5,-16.84),(18,-16.48),(25.2,-16.12),(31.1,-15.95,.06)]
i_09K = [(-25.7,-16.45),(-18.8,-16.78),(-15.8,-16.97),(-4.9,-17.47),(-2.8,-17.52),(-0.7,-17.54),(2,-17.52),(6,-17.3),(10,-17),(13.5,-16.75),(18,-16.45),(24,-16.2),(30,-16)]
i_09Z = [(-11.7,-17.43),(-7.8,-17.76),(-6.9,-17.82),(-1.9,-17.99),(2.9,-17.98),(3.8,-17.94),(6.8,-17.87),(14.6,-17.49),(18.4,-17.28),(20.4,-17.18),(26.3,-16.99),(29.3,-16.89),(32.1,-16.82),(33.1,-16.8),(35.1,-16.73),(44.8,-16.51),(45.8,-16.46)]
i_09bb = [(-11.3,-16.93),(-10.4,-17.32),(-5.4,-17.97),(1.5,-18.05),(5.5,-17.94),(7.4,-17.81),(11.4,-17.51),(12.5,-17.48),(15.8,-17.21),(21,-16.92),(26.2,-16.72),(34.2,-16.34),(38.1,-16.24),(40.1,-16.16),(46,-15.98,.05),(49.9,-15.95,.05)]
i_09dp = [(-6.3,-18.09,.05),(2.6,-18.03),(5.5,-18,.05),(9.3,-17.85),(10.3,-17.77),(14.2,-17.61,.07),(18.1,-17.47,.07),(20.1,-17.39,.07)]
i_09dt = [(-3,-17.55),(2,-17.52),(5,-17.5),(8,-17.35),(12,-17.3),(16,-17.15),(21,-16.95)]
i_13abf = [(-24.8,-16.4),(-23.9,-16.45),(-21,-16.59),(-17.1,-16.86),(-12.2,-17.17),(-7.3,-17.39),(-4.3,-17.4),(-0.4,-17.41),(0.8,-17.43),(3.5,-17.43),(10.4,-17.26),(11.6,-17.21),(13.1,-17.18),(14.2,-17.11),(20.7,-16.9),(21.9,-16.89),(23.1,-16.87),(24,-16.83)]

BLUE, GREEN, RED, MAG = "#0000ff", "#008000", "#ff0000", "#ff00ff"
STYLE = {
 "04ew":(BLUE,"circle",3),"04ex":(GREEN,"square-open",6),"04fe":(RED,"triangle-left-open",10),"04ff":(GREEN,"circle-open",9),
 "04gq":(BLUE,"square-open",7),"04gt":(RED,"square-open",7),"04gv":(BLUE,"circle-open",9),"05Q":(GREEN,"hexagram-open",7),
 "05aw":(RED,"asterisk-open",7),"05bj":(GREEN,"cross-thin-open",7),"05em":(RED,"circle-open",9),"06T":(GREEN,"triangle-down-open",10),
 "06ba":(GREEN,"asterisk-open",7),"06bf":(GREEN,"star-open",8),"06ep":(BLUE,"diamond-open",9),"06fo":(BLUE,"cross-thin-open",8),
 "06ir":(RED,"diamond-open",9),"06lc":(BLUE,"star-open",8),"07C":(BLUE,"triangle-down-open",10),"07Y":(BLUE,"triangle-right-open",10),
 "07ag":(RED,"star-open",8),"07hn":(RED,"triangle-down-open",10),"07kj":(BLUE,"triangle-up-open",10),"07rz":(RED,"triangle-up-open",10),
 "08aq":(GREEN,"triangle-up-open",10),"08gc":(BLUE,"x-thin-open",7),"08hh":(RED,"cross-thin-open",8),"09K":(GREEN,"triangle-right-open",10),
 "09Z":(GREEN,"diamond-open",9),"09bb":(MAG,"square-open",7),"09dp":(RED,"hexagram-open",7),"09dt":(RED,"triangle-right-open",10),
 "13abf":(BLUE,"circle",20),
}
AX = "#404040"
SANS = "Liberation Sans"

W, H = 1200, 1138
PANELS = [("B","x","y",84.6,582,3,530),("V","x2","y2",582,1079,3,530),("r","x3","y3",84.6,582,530,1063),("i","x4","y4",582,1079,530,1063)]
fig = go.Figure()
for band, xa, ya, *_ in PANELS:
    for sn, default_err in zip(SN_NAMES, SN_ERR):
        pts = globals()[f"{band}_{sn}"]
        color, sym, size = STYLE[sn]
        show = band == "B" and sn != "13abf"
        fig.add_trace(go.Scatter(
            x=[p[0] for p in pts], y=[p[1] for p in pts], xaxis=xa, yaxis=ya, mode="lines+markers",
            name=f'<span style="font-size:20.2px">{sn}</span>',
            showlegend=show, line=dict(color=color, width=0.9),
            marker=dict(symbol=sym, size=size, color=color, line=dict(color=color, width=1.1)),
            error_y=dict(type="data", array=[p[2] if len(p) > 2 else default_err for p in pts], color=color, thickness=1, width=4, visible=True),
        ))
# legend key for 13abf uses a small marker
fig.add_trace(go.Scatter(x=[None], y=[None], xaxis="x", yaxis="y", mode="lines+markers",
                         name='<span style="font-size:20.2px">13abf</span>',
                         line=dict(color=BLUE, width=0.9), marker=dict(symbol="circle", size=10, color=BLUE)))

layout = dict(width=W, height=H, margin=dict(l=0, r=0, t=0, b=0), plot_bgcolor="white", paper_bgcolor="white",
              font=dict(family=SANS, color=AX))
MIN_TICK = dict(ticks="inside", ticklen=6, tickwidth=2, tickcolor=AX, showgrid=False)
for idx, (band, xa, ya, x0, x1, y0, y1) in enumerate(PANELS):
    sfx = "" if idx == 0 else str(idx + 1)
    bottom = band in "ri"; left = band in "Br"
    if band in "BV":
        yr = [-13.52, -18.7]
        yv = [-18.5, -18, -17.5, -17, -16.5, -16, -15.5, -15, -14.5, -14]
    else:
        yr = [-14.49, -18.51]
        yv = [-18, -17.5, -17, -16.5, -16, -15.5, -15]
    layout["xaxis" + sfx] = dict(domain=[x0 / W, x1 / W], range=[-30, 60], anchor="y" + sfx, showline=True, mirror="ticks",
        linewidth=2, linecolor=AX, showgrid=False, zeroline=False, ticks="inside", ticklen=12, tickwidth=2, tickcolor=AX,
        tickmode="array", tickvals=[-20, 0, 20, 40], ticktext=["-20", "0", "20", "40"], showticklabels=bottom,
        tickfont=dict(family=SANS, size=17, weight=700, color=AX),
        minor=dict(tickmode="linear", tick0=-30, dtick=5, **MIN_TICK))
    layout["yaxis" + sfx] = dict(domain=[1 - y1 / H, 1 - y0 / H], range=yr, anchor="x" + sfx, showline=True, mirror="ticks",
        linewidth=2, linecolor=AX, showgrid=False, zeroline=False, ticks="inside", ticklen=12, tickwidth=2, tickcolor=AX,
        tickmode="array", tickvals=yv, ticktext=[f"{v:g}" for v in yv], showticklabels=left,
        tickfont=dict(family=SANS, size=17, weight=700, color=AX),
        minor=dict(tickmode="linear", tick0=-18.5, dtick=0.1, **MIN_TICK))

def label(text, px, py, size, color="black", **kw):
    return dict(text=text, x=px / W, y=1 - py / H, xref="paper", yref="paper", showarrow=False,
                xanchor="center", yanchor="middle",
                font=dict(family=SANS, size=size, color=color, weight=700), **kw)

layout["annotations"] = [
    label("B", 559, 32, 31), label("V", 1056, 32, 31), label("r", 563, 563, 31), label("i", 1063, 563, 31),
    label("IIb", 126, 1036, 25, GREEN), label("Ib", 161, 1036, 25, BLUE), label("Ic", 199, 1036, 25, RED), label("Ic-BL", 264, 1036, 25, MAG),
    label("M [mag]", 17, 502, 31.6, "#333333", textangle=-90),
    label("Rest-frame days since m", 601, 1108, 32.4, "#333333"),
    label("max", 821, 1127, 25.5, "#333333", height=18),
]
layout["legend"] = dict(x=1087.5 / W, y=1 - 121.5 / H, xanchor="left", yanchor="top", borderwidth=0,
                        bgcolor="rgba(0,0,0,0)", itemwidth=41, tracegroupgap=0,
                        font=dict(family=SANS, size=16.6, color="black", weight=700))

# legend frame and the error-bar glyph on each legend key
ROW0, ROWH, KEYX = 139, 24.56, 1114
shapes = [dict(type="rect", xref="paper", yref="paper", x0=1088 / W, x1=1198 / W, y0=1 - 938 / H, y1=1 - 125 / H,
               line=dict(color=AX, width=3))]
for k, sn in enumerate(SN_NAMES):
    c = STYLE[sn][0]
    yc = ROW0 + k * ROWH
    for (xa_, ya_, xb_, yb_) in [(KEYX, yc - 9.5, KEYX, yc + 9.5), (KEYX - 4, yc - 9.5, KEYX + 4, yc - 9.5), (KEYX - 4, yc + 9.5, KEYX + 4, yc + 9.5)]:
        shapes.append(dict(type="line", xref="paper", yref="paper", x0=xa_ / W, x1=xb_ / W, y0=1 - ya_ / H, y1=1 - yb_ / H,
                           line=dict(color=c, width=1)))
layout["shapes"] = shapes
fig.update_layout(**layout)
fig.write_html("out.html", config={"displayModeBar": False}, post_script="document.body.style.margin='0';")
